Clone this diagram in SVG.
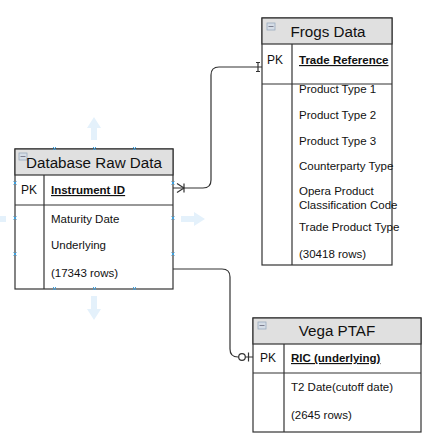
<svg xmlns="http://www.w3.org/2000/svg" width="439" height="439" viewBox="0 0 439 439">
<style>
.box{fill:#ffffff;stroke:#333333;stroke-width:1.2}
.hdr{fill:#e0e0e0;stroke:#333333;stroke-width:1.2}
.ln{stroke:#333333;stroke-width:1.2;fill:none}
.title{font-family:"Liberation Sans",Arial,sans-serif;font-size:15.2px;fill:#111}
.t{font-family:"Liberation Sans",Arial,sans-serif;font-size:11.5px;fill:#111}
.pk{font-family:"Liberation Sans",Arial,sans-serif;font-size:12px;fill:#111}
.b{font-weight:bold;text-decoration:underline}
.icon{fill:#d5dde6;stroke:#9aabbd;stroke-width:0.8}
.conn{stroke:#333333;stroke-width:1.2;fill:none}
.hint{fill:#e4f1fb}
.mk{stroke:#3aa0e0;stroke-width:1;fill:none}
</style>
<g id="hints">
<path class="hint" d="M94,117 L101,128 L97,128 L97,140 L91,140 L91,128 L87,128 Z"/>
<path class="hint" d="M94,320 L101,309 L97,309 L97,296 L91,296 L91,309 L87,309 Z"/>
<path class="hint" d="M205,219 L194,212 L194,216 L181,216 L181,222 L194,222 L194,226 Z"/>
<rect class="hint" x="0" y="216" width="6" height="6"/>
</g>
<g id="node-database-raw-data">
<rect class="box" x="15" y="149" width="158" height="140"/>
<rect class="hdr" x="15" y="149" width="158" height="26"/>
<line class="ln" x1="15" y1="205" x2="173" y2="205"/>
<line class="ln" x1="44" y1="175" x2="44" y2="289"/>
<rect class="icon" x="19" y="153" width="8" height="7"/>
<line x1="20.5" y1="156.5" x2="25.5" y2="156.5" stroke="#667" stroke-width="0.8"/>
<text class="title" x="94" y="167.5" text-anchor="middle">Database Raw Data</text>
<text class="pk" x="21" y="194">PK</text>
<text class="t b" x="51" y="194">Instrument ID</text>
<text class="t" x="51" y="223">Maturity Date</text>
<text class="t" x="51" y="249">Underlying</text>
<text class="t" x="51" y="277">(17343 rows)</text>
</g>
<g id="markers">
<path class="mk" d="M53,147 l3,3 M56,147 l-3,3 M93,147 l3,3 M96,147 l-3,3 M133,147 l3,3 M136,147 l-3,3"/>
<path class="mk" d="M53,287 l3,3 M56,287 l-3,3 M93,287 l3,3 M96,287 l-3,3 M133,287 l3,3 M136,287 l-3,3"/>
<path class="mk" d="M13.5,181.5 l3,3 M16.5,181.5 l-3,3 M13.5,216.5 l3,3 M16.5,216.5 l-3,3 M13.5,252.5 l3,3 M16.5,252.5 l-3,3"/>
<path class="mk" d="M171.5,181.5 l3,3 M174.5,181.5 l-3,3 M171.5,216.5 l3,3 M174.5,216.5 l-3,3 M171.5,252.5 l3,3 M174.5,252.5 l-3,3"/>
</g>
<g id="node-frogs-data">
<rect class="box" x="262" y="18" width="130" height="247"/>
<rect class="hdr" x="262" y="18" width="130" height="26"/>
<line class="ln" x1="262" y1="84" x2="392" y2="84"/>
<line class="ln" x1="292" y1="44" x2="292" y2="265"/>
<rect class="icon" x="267" y="23" width="8" height="7"/>
<line x1="268.5" y1="26.5" x2="273.5" y2="26.5" stroke="#667" stroke-width="0.8"/>
<text class="title" x="328" y="37" text-anchor="middle">Frogs Data</text>
<text class="pk" x="267" y="64">PK</text>
<text class="t b" x="299" y="64">Trade Reference</text>
<text class="t" x="299" y="93">Product Type 1</text>
<text class="t" x="299" y="119">Product Type 2</text>
<text class="t" x="299" y="145">Product Type 3</text>
<text class="t" x="299" y="170">Counterparty Type</text>
<text class="t" x="299" y="195">Opera Product</text>
<text class="t" x="299" y="209">Classification Code</text>
<text class="t" x="299" y="231">Trade Product Type</text>
<text class="t" x="299" y="258">(30418 rows)</text>
</g>
<g id="node-vega-ptaf">
<rect class="box" x="253" y="318" width="168" height="114"/>
<rect class="hdr" x="253" y="318" width="168" height="26"/>
<line class="ln" x1="253" y1="373" x2="421" y2="373"/>
<line class="ln" x1="284" y1="344" x2="284" y2="432"/>
<rect class="icon" x="258" y="322" width="8" height="7"/>
<line x1="259.5" y1="325.5" x2="264.5" y2="325.5" stroke="#667" stroke-width="0.8"/>
<text class="title" x="337" y="336" text-anchor="middle">Vega PTAF</text>
<text class="pk" x="260" y="362">PK</text>
<text class="t b" x="291" y="362">RIC (underlying)</text>
<text class="t" x="291" y="391">T2 Date(cutoff date)</text>
<text class="t" x="291" y="419">(2645 rows)</text>
</g>
<g id="connectors">
<path class="conn" d="M173,188 L203,188 Q211,188 211,180 L211,75 Q211,67 219,67 L262,67"/>
<path class="conn" d="M177,183.5 L184,188 L177,192.5 M184,183.5 L184,192.5"/>
<path class="conn" d="M258,62.5 L258,71.5 M256,62.5 L260,62.5 M256,71.5 L260,71.5"/>
<path class="conn" d="M173,269 L222,269 Q230,269 230,277 L230,349 Q230,357 238,357 L253,357"/>
<circle cx="242" cy="357" r="3.3" fill="#ffffff" stroke="#333333" stroke-width="1.2"/>
<path class="conn" d="M248.5,352.5 L248.5,361.5"/>
</g>
</svg>
